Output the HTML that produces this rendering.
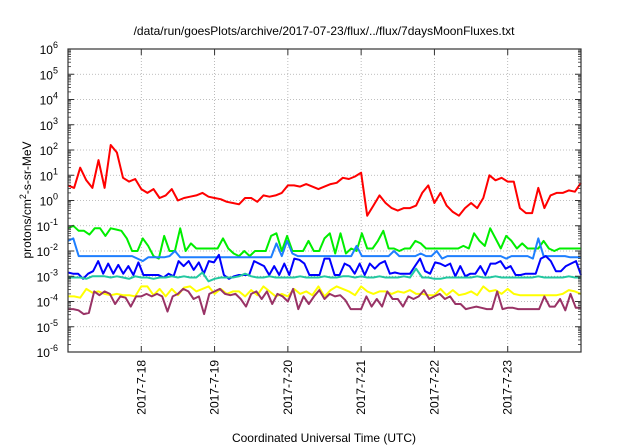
<!DOCTYPE html>
<html><head><meta charset="utf-8"><style>
html,body{margin:0;padding:0;background:#fff}
svg{display:block;font-family:"Liberation Sans",sans-serif}
</style></head><body>
<svg id="chart" width="640" height="448" viewBox="0 0 640 448" xmlns="http://www.w3.org/2000/svg">
<text x="324" y="35" text-anchor="middle" font-size="12">/data/run/goesPlots/archive/2017-07-23/flux/../flux/7daysMoonFluxes.txt</text>
<g id="grid"></g>
<g id="series"></g>
<rect x="68" y="49" width="513" height="303" fill="none" stroke="#333" stroke-width="1.2"/>
<g id="axes"></g>
<text transform="translate(31,200) rotate(-90)" text-anchor="middle" font-size="12">protons/cm<tspan dy="-5" font-size="9">2</tspan><tspan dy="5">-s-sr-MeV</tspan></text>
<text x="324" y="442" text-anchor="middle" font-size="12">Coordinated Universal Time (UTC)</text>
</svg>
<script>
const xTickDays=[18,19,20,21,22,23];
const xTickLabels=["2017-7-18","2017-7-19","2017-7-20","2017-7-21","2017-7-22","2017-7-23"];
const yExps=[-6,-5,-4,-3,-2,-1,0,1,2,3,4,5,6];
const seriesNames=["red","green","lightblue","blue","teal","yellow","purple"];
const seriesColors=["#ff0000","#00ee00","#1e7fff","#0000ff","#22c8a0","#ffff00","#993366"];
const red=[0.6,0.5,1.3,0.8,0.5,1.6,0.5,2.2,1.9,0.9,0.75,0.85,
0.45,0.3,0.45,0.1,0.2,0.45,0.0,0.1,0.15,0.2,0.3,0.15,
0.1,0.05,-0.05,-0.1,-0.15,0.1,0.1,-0.05,0.2,0.15,0.2,0.3,
0.6,0.6,0.55,0.65,0.55,0.45,0.55,0.65,0.7,0.9,0.85,0.95,
1.1,-0.6,-0.2,0.2,-0.1,-0.3,-0.4,-0.3,-0.3,-0.2,0.3,0.6,
-0.1,0.3,-0.2,-0.45,-0.6,-0.3,-0.1,-0.3,0.1,1.0,0.8,0.9,
0.75,0.75,-0.3,-0.5,-0.5,0.5,-0.3,0.2,0.3,0.3,0.4,0.35,0.7];
const green=[-1.1,-1.0,-1.2,-1.2,-1.35,-1.1,-1.1,-1.4,-1.1,-1.15,-1.2,-1.5,
-2.0,-2.0,-1.5,-1.8,-2.2,-2.3,-1.4,-2.0,-2.0,-1.1,-2.0,-1.7,
-1.9,-1.9,-1.9,-1.9,-1.9,-1.5,-1.9,-2.1,-2.2,-2.0,-2.2,-2.0,
-2.0,-2.0,-1.4,-1.3,-2.0,-1.4,-2.0,-2.0,-2.0,-1.6,-2.0,-2.0,
-1.5,-1.3,-2.1,-1.3,-2.1,-1.9,-2.0,-1.3,-1.9,-1.9,-1.6,-1.2,
-1.9,-1.9,-2.0,-1.9,-1.9,-1.6,-1.7,-1.9,-1.9,-1.9,-1.9,-1.9,
-1.9,-1.9,-1.8,-1.9,-1.3,-1.6,-1.8,-1.1,-1.5,-1.9,-1.4,-1.6,
-1.9,-1.7,-1.9,-1.9,-1.9,-1.6,-1.9,-2.0,-1.9,-1.9,-1.9,-1.9,-1.9];
const lightblue=[-1.6,-1.5,-2.2,-2.2,-2.2,-2.2,-2.2,-2.2,-2.2,-2.2,-2.2,-2.2,
-2.2,-2.3,-2.4,-2.25,-2.25,-2.25,-2.25,-2.2,-2.0,-2.25,-2.25,-2.25,
-2.25,-2.25,-2.25,-2.25,-2.25,-2.25,-2.25,-2.25,-2.25,-2.25,-2.25,-2.25,
-2.25,-2.25,-2.25,-1.7,-2.2,-1.6,-2.1,-2.2,-2.2,-2.2,-2.2,-2.2,
-2.2,-2.2,-2.2,-2.2,-2.2,-2.2,-1.8,-2.2,-2.2,-2.2,-2.2,-2.2,
-2.2,-2.0,-2.2,-2.2,-2.2,-2.2,-2.1,-2.2,-2.2,-2.0,-2.3,-2.2,
-2.2,-2.2,-2.2,-2.2,-2.2,-2.2,-2.2,-2.2,-2.2,-2.2,-2.3,-2.2,
-2.2,-2.2,-2.2,-2.3,-1.5,-2.2,-2.2,-2.2,-2.2,-2.2,-2.25,-2.25,-2.25];
const blue=[-2.85,-2.9,-2.9,-3.1,-2.9,-2.8,-2.4,-2.9,-2.5,-2.9,-2.55,-2.9,-2.6,-2.95,-2.45,-2.95,
-2.95,-2.95,-2.95,-3.05,-2.9,-3.0,-2.4,-2.6,-2.4,-2.75,-2.45,-2.9,-2.4,-2.45,-2.15,-2.95,
-3.1,-3.0,-2.95,-2.95,-2.95,-2.4,-2.5,-2.6,-2.95,-2.6,-2.95,-2.5,-2.95,-2.3,-2.35,-2.5,
-2.95,-2.95,-2.95,-2.3,-2.3,-2.95,-2.95,-2.5,-2.6,-2.9,-2.5,-2.95,-2.5,-2.7,-2.5,-2.4,
-2.9,-2.85,-2.9,-2.9,-2.9,-2.6,-2.3,-2.8,-2.9,-2.45,-2.5,-2.6,-2.5,-3.0,-2.6,-3.0,
-2.9,-2.9,-2.6,-2.95,-2.5,-2.5,-2.4,-2.7,-2.6,-2.95,-2.95,-2.9,-2.9,-2.9,-2.3,-2.2,
-2.4,-2.8,-2.8,-2.6,-2.5,-2.4,-2.95];
const teal=[-3.05,-3.05,-3.05,-3.1,-3.0,-3.0,-3.0,-3.05,-3.0,-3.05,-3.1,-3.0,
-3.05,-3.05,-3.1,-3.05,-3.05,-3.0,-3.05,-3.0,-3.05,-3.05,-2.85,-3.2,
-3.1,-3.05,-3.05,-3.05,-3.0,-2.9,-3.0,-3.05,-3.05,-3.0,-3.05,-3.05,
-3.05,-3.05,-3.0,-3.05,-3.05,-3.05,-3.0,-3.05,-3.05,-3.0,-3.0,-3.05,
-3.0,-3.05,-3.05,-3.0,-3.05,-3.05,-3.05,-3.0,-3.05,-2.7,-3.05,-3.05,
-3.1,-3.1,-3.05,-3.05,-3.05,-3.05,-3.05,-3.0,-3.05,-3.05,-3.0,-3.05,
-3.05,-3.05,-3.05,-3.05,-3.05,-3.0,-3.05,-3.05,-3.05,-3.05,-3.0,-3.05,-3.05];
const yellow=[-3.8,-3.8,-3.85,-3.5,-3.65,-3.6,-3.7,-3.75,-3.7,-3.75,-3.75,-3.8,
-3.4,-3.4,-3.75,-3.5,-3.8,-3.5,-3.75,-3.45,-3.4,-3.6,-3.5,-3.4,
-3.7,-3.5,-3.7,-3.6,-3.6,-3.8,-3.55,-3.75,-3.4,-3.6,-3.8,-3.7,
-3.8,-3.5,-3.7,-3.6,-3.75,-3.4,-3.8,-3.55,-3.4,-3.5,-3.6,-3.75,
-3.4,-3.6,-3.7,-3.6,-3.6,-3.7,-3.6,-3.65,-3.55,-3.7,-3.7,-3.75,
-3.75,-3.5,-3.75,-3.55,-3.75,-3.7,-3.6,-3.75,-3.4,-3.6,-3.55,-3.7,
-3.5,-3.7,-3.75,-3.75,-3.75,-3.75,-3.75,-3.75,-3.75,-3.7,-3.55,-3.6,-3.7];
const purple=[-4.3,-4.3,-4.35,-4.5,-4.45,-3.6,-3.75,-3.6,-3.7,-4.1,-3.8,-3.85,-4.2,-3.8,-3.8,
-3.7,-3.8,-3.7,-3.8,-4.4,-3.8,-3.7,-3.5,-3.6,-3.9,-3.8,-4.5,-3.7,-3.6,-3.5,-3.7,-3.75,
-3.7,-3.9,-4.2,-3.7,-3.6,-3.9,-3.6,-4.1,-3.7,-3.8,-4.0,-3.5,-4.3,-3.8,-4.1,-3.8,
-3.55,-3.9,-3.7,-3.8,-3.75,-3.95,-4.3,-4.3,-4.3,-3.8,-4.2,-3.9,-4.2,-3.6,-3.9,-3.9,
-4.2,-3.8,-3.9,-3.8,-3.55,-3.9,-3.8,-3.7,-3.9,-3.8,-4.1,-4.1,-4.3,-4.25,-4.2,-4.25,
-4.3,-4.3,-3.6,-4.3,-4.25,-4.25,-4.3,-4.3,-4.3,-4.3,-4.3,-3.8,-4.2,-4.2,-3.9,-4.35,-3.7,-4.25,-4.25];
const allSeries=[red,green,lightblue,blue,teal,yellow,purple];

const X0=68,X1=581,Y0=352,Y1=49,D0=17,D1=24,E0=-6,E1=6;
const xs=d=>X0+(d-D0)/(D1-D0)*(X1-X0);
const ys=e=>Y0-(e-E0)/(E1-E0)*(Y0-Y1);
const NS="http://www.w3.org/2000/svg";
function mk(tag,attrs,parent){const el=document.createElementNS(NS,tag);for(const k in attrs)el.setAttribute(k,attrs[k]);parent.appendChild(el);return el;}
const grid=document.getElementById('grid'),axes=document.getElementById('axes'),ser=document.getElementById('series');
yExps.forEach(e=>{
  const y=ys(e);
  if(e>E0&&e<E1){const g=mk('line',{x1:X0,x2:X1,y1:y,y2:y,stroke:'#aaa','stroke-width':0.8,'stroke-dasharray':'1,2'},grid);
  
  }
  [[X0,X0+6],[X1-6,X1]].forEach(p=>mk('line',{x1:p[0],x2:p[1],y1:y,y2:y,stroke:'#333','stroke-width':1},axes));
  if(e<E1){for(let m=2;m<10;m++){const ym=ys(e+Math.log10(m));mk('line',{x1:X0,x2:X0+3,y1:ym,y2:ym,stroke:'#333','stroke-width':0.8},axes);mk('line',{x1:X1-3,x2:X1,y1:ym,y2:ym,stroke:'#333','stroke-width':0.8},axes);}}
  const t=mk('text',{x:58,y:y+5,'text-anchor':'end','font-size':12},axes);
  
  
  t.appendChild(document.createTextNode('10'));
  const s=mk('tspan',{dy:-6,'font-size':9},t);s.textContent=String(e);
});
xTickDays.forEach((d,i)=>{
  const x=xs(d);
  const g=mk('line',{x1:x,x2:x,y1:Y1,y2:Y0,stroke:'#aaa','stroke-width':0.8,'stroke-dasharray':'1,2'},grid);
  
  
  mk('line',{x1:x,x2:x,y1:Y0,y2:Y0-6,stroke:'#333','stroke-width':1},axes);
  mk('line',{x1:x,x2:x,y1:Y1,y2:Y1+6,stroke:'#333','stroke-width':1},axes);
  const t=mk('text',{transform:`translate(${x+4},360) rotate(-90)`,'text-anchor':'end','font-size':12},axes);
  
  
  t.textContent=xTickLabels[i];
});
allSeries.forEach((arr,k)=>{
  const n=arr.length;
  const pts=arr.map((v,i)=>xs(D0+i*(D1-D0)/(n-1)).toFixed(1)+','+ys(v).toFixed(1)).join(' ');
  const pl=mk('polyline',{points:pts,fill:'none',stroke:seriesColors[k],'stroke-width':2,'stroke-linejoin':'round'},ser);
  
  
});
</script>
</body></html>
